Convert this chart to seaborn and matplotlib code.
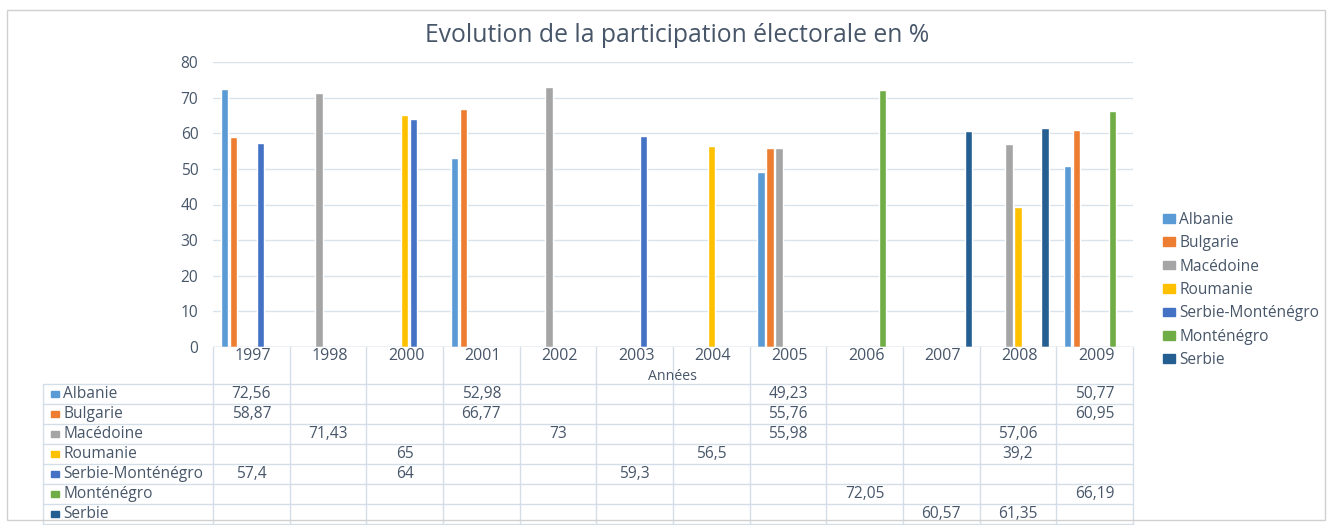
import numpy as np
import pandas as pd
import matplotlib
matplotlib.use("Agg")
import matplotlib.pyplot as plt
from matplotlib.patches import Rectangle
import seaborn as sns

# ---- data ----
years = ['1997', '1998', '2000', '2001', '2002', '2003', '2004', '2005', '2006', '2007', '2008', '2009']
series = ['Albanie', 'Bulgarie', 'Macédoine', 'Roumanie', 'Serbie-Monténégro', 'Monténégro', 'Serbie']
albanie = [72.56, None, None, 52.98, None, None, None, 49.23, None, None, None, 50.77]
bulgarie = [58.87, None, None, 66.77, None, None, None, 55.76, None, None, None, 60.95]
macedoine = [None, 71.43, None, None, 73, None, None, 55.98, None, None, 57.06, None]
roumanie = [None, None, 65, None, None, None, 56.5, None, None, None, 39.2, None]
serbie_montenegro = [57.4, None, 64, None, None, 59.3, None, None, None, None, None, None]
montenegro = [None, None, None, None, None, None, None, None, 72.05, None, None, 66.19]
serbie = [None, None, None, None, None, None, None, None, None, 60.57, 61.35, None]
colors = ['#5B9BD5', '#ED7D31', '#A5A5A5', '#FFC000', '#4472C4', '#70AD47', '#255E91']

values = [albanie, bulgarie, macedoine, roumanie, serbie_montenegro, montenegro, serbie]
rows = []
for name, vals in zip(series, values):
    for y, v in zip(years, vals):
        if v is not None:
            rows.append({'Année': y, 'Pays': name, 'Valeur': v})
df = pd.DataFrame(rows)

TXT = '#475669'
GRID = '#d9e3ec'
FONT = ['Open Sans', 'DejaVu Sans']
FS = 11.2

sns.set_theme(style='white')
plt.rcParams['font.family'] = FONT

W, H = 1332, 525
fig = plt.figure(figsize=(W / 100, H / 100), dpi=100)

def fx(px):
    return px / W

def fy(py):
    return (H - py) / H

L, R = 213, 1133
TOP, BASE = 62, 347
ax = fig.add_axes([fx(L), fy(BASE), fx(R - L), fy(TOP) - fy(BASE)])
sns.barplot(data=df, x='Année', y='Valeur', hue='Pays', order=years, hue_order=series,
            palette=colors, width=0.82, gap=0.17, ax=ax, legend=False, saturation=1)
ax.set_xlim(-0.5, len(years) - 0.5)
ax.set_ylim(0, 80)
ax.set_yticks(np.arange(0, 81, 10))
ax.yaxis.grid(True, color=GRID, linewidth=1)
ax.set_axisbelow(True)
ax.tick_params(axis='y', length=0, labelsize=FS, colors=TXT, pad=10.5)
ax.set_xticks([])
ax.set_xlabel('')
ax.set_ylabel('')
for s in ax.spines.values():
    s.set_visible(False)
ax.axhline(0, color='#c8d4df', linewidth=1)

# title
fig.text(fx(677), fy(35), 'Evolution de la participation électorale en %', ha='center', va='center',
         fontsize=17.8, color=TXT)

# ---- data table ----
tax = fig.add_axes([fx(L), 0, fx(R - L), fy(BASE)])
tax.set_xlim(-0.5, len(years) - 0.5)
tax.set_ylim(H, BASE)
tax.axis('off')
LINE = '#d3dee8'
for k in range(len(years) + 1):
    tax.plot([k - 0.5, k - 0.5], [BASE, H], color=LINE, lw=1, clip_on=False)
for i, y in enumerate(years):
    tax.text(i + 0.02, 356, y, ha='center', va='center', fontsize=FS + 0.3, color=TXT)
tax.text((len(years) - 1) / 2, 376, 'Années', ha='center', va='center', fontsize=FS - 1, color=TXT)

unit = (R - L) / len(years)
x_left = -0.5 - (L - 43) / unit
x_mark = -0.5 - (L - 55) / unit
x_lab = -0.5 - (L - 63) / unit
row_top = 384
for j in range(len(series) + 1):
    yy = row_top + 20 * j
    tax.plot([x_left, len(years) - 0.5], [yy, yy], color=LINE, lw=1, clip_on=False)
tax.plot([x_left, x_left], [row_top, H], color=LINE, lw=1, clip_on=False)
for j, (name, vals, c) in enumerate(zip(series, values, colors)):
    yc = row_top + 20 * j + 10
    tax.add_patch(Rectangle((x_mark - 0.055, yc - 3), 0.11, 6, color=c, clip_on=False))
    tax.text(x_lab, yc, name, ha='left', va='center', fontsize=FS, color=TXT, clip_on=False)
    for i, v in enumerate(vals):
        if v is not None:
            s = f'{v:g}'.replace('.', ',')
            tax.text(i, yc, s, ha='center', va='center', fontsize=FS, color=TXT)

# ---- legend ----
handles = [Rectangle((0, 0), 1, 1, color=c) for c in colors]
fig.legend(handles, series, loc='center left', bbox_to_anchor=(fx(1163), fy(290)), frameon=False,
           fontsize=FS, labelcolor=TXT, handlelength=0.8, handleheight=0.5, handletextpad=0.25,
           labelspacing=0.48, borderpad=0, borderaxespad=0)

# outer border
fig.add_artist(Rectangle((fx(7), fy(520)), fx(1318), fy(10) - fy(520), transform=fig.transFigure,
                         fill=False, edgecolor='#d0d0d0', lw=1))

fig.savefig('out.png', dpi=100)
